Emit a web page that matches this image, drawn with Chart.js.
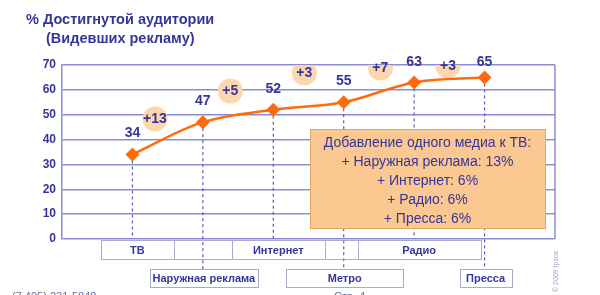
<!DOCTYPE html>
<html>
<head>
<meta charset="utf-8">
<script src="https://cdn.jsdelivr.net/npm/chart.js@4/dist/chart.umd.min.js"></script>
<style>
html,body{margin:0;padding:0;background:#fff;}
#wrap{width:600px;height:295px;position:relative;}
</style>
</head>
<body>
<div id="wrap"><canvas id="reach" width="600" height="295"></canvas></div>
<script>
// media added step by step, cumulative reach %
const media = ['ТВ','Наружная реклама','Интернет','Метро','Радио','Пресса'];
const reach = [34,47,52,55,63,65];
const gains = ['+13','+5','+3','+7','+3'];
const gainX = [1.32,2.39,3.44,4.52,5.48];
const gainY = [48.3,59.5,66.8,68.8,69.6];
const yTicks = [0,10,20,30,40,50,60,70];
const noteLines = ['Добавление одного медиа к ТВ:','+ Наружная реклама: 13%','+ Интернет: 6%','+ Радио: 6%','+ Пресса: 6%'];

const navy = '#35359a';
const gridCol = '#8c8cd2';
const orange = '#ff6a0d';
const boxW = [73,108,93,117,123,52];

const points = reach.map(function(v,i){ return {x:i+1, y:v}; });
const bubbles = gainX.map(function(x,i){ return {x:x, y:gainY[i]}; });

const extras = {
  id:'extras',
  beforeDatasetsDraw(chart){
    const c = chart.ctx, a = chart.chartArea;
    const xs = chart.scales.x, ys = chart.scales.y;
    c.save();
    // right border
    c.strokeStyle = gridCol; c.lineWidth = 1.5;
    c.beginPath(); c.moveTo(a.right, a.top); c.lineTo(a.right, a.bottom); c.stroke();
    // dashed drop lines
    c.setLineDash([3,3]); c.strokeStyle = '#5c5cb8'; c.lineWidth = 1.2;
    reach.forEach(function(v,i){
      const px = xs.getPixelForValue(i+1), py = ys.getPixelForValue(v);
      const end = (i % 2 === 0) ? a.bottom : a.bottom + 30;
      c.beginPath(); c.moveTo(px, py); c.lineTo(px, end); c.stroke();
    });
    c.setLineDash([]);
    // note box
    const bx = a.left + 248, by = a.top + 64, bw = 235, bh = 99;
    c.fillStyle = '#fcc891'; c.strokeStyle = '#e3a468'; c.lineWidth = 1;
    c.fillRect(bx, by, bw, bh); c.strokeRect(bx+0.5, by+0.5, bw, bh);
    c.fillStyle = navy; c.font = '14px "Liberation Sans", Arial, sans-serif';
    c.textAlign = 'center'; c.textBaseline = 'middle';
    noteLines.forEach(function(t,i){ c.fillText(t, bx + bw/2, by + 14 + i*19); });
    c.restore();
  },
  afterDatasetsDraw(chart){
    const c = chart.ctx, a = chart.chartArea;
    const xs = chart.scales.x, ys = chart.scales.y;
    c.save();
    c.textAlign = 'center'; c.textBaseline = 'middle';
    // gain bubble labels
    c.fillStyle = navy; c.font = 'bold 14px "Liberation Sans", Arial, sans-serif';
    gains.forEach(function(g,i){
      c.fillText(g, xs.getPixelForValue(gainX[i]), ys.getPixelForValue(gainY[i]));
    });
    // value labels
    c.font = 'bold 14px "Liberation Sans", Arial, sans-serif';
    reach.forEach(function(v,i){
      const py = Math.max(ys.getPixelForValue(v) - 21, a.top - 3);
      c.fillText(String(v), xs.getPixelForValue(i+1), py);
    });
    // media label boxes
    c.font = 'bold 11px "Liberation Sans", Arial, sans-serif';
    c.lineWidth = 1; c.strokeStyle = '#a9a9d6';
    let prevRight = null;
    media.forEach(function(m,i){
      const cx = xs.getPixelForValue(i+1) + (i % 2 === 0 ? 5 : 1);
      const top = (i % 2 === 0) ? a.bottom + 1 : a.bottom + 30;
      const h = (i % 2 === 0) ? 19 : 18;
      const l = Math.round(cx - boxW[i]/2), w = boxW[i];
      if (i % 2 === 0) {
        if (prevRight !== null) c.strokeRect(prevRight + 0.5, top + 0.5, l - prevRight, h);
        prevRight = l + w;
      }
      c.fillStyle = '#fff'; c.fillRect(l, top, w, h);
      c.strokeRect(l + 0.5, top + 0.5, w, h);
      c.fillStyle = navy; c.fillText(m, cx, top + h/2 + 1);
    });
    // footer bits
    c.fillStyle = '#6a6aa8'; c.font = '11px "Liberation Sans", Arial, sans-serif';
    c.textAlign = 'left'; c.textBaseline = 'top';
    c.fillText('(7 495) 231-5848', 12, 291);
    c.fillText('Стр. 4', 334, 291);
    c.translate(556, 292); c.rotate(-Math.PI/2);
    c.fillStyle = '#9c9cd0'; c.font = '7px "Liberation Sans", Arial, sans-serif';
    c.textBaseline = 'middle';
    c.fillText('© 2009 Ipsos', 0, 0);
    c.restore();
  },
  afterDraw(chart){
    const c = chart.ctx;
    c.save();
    c.fillStyle = navy; c.font = 'bold 14.5px "Liberation Sans", Arial, sans-serif';
    c.textAlign = 'left'; c.textBaseline = 'middle';
    c.fillText('% Достигнутой аудитории', 26, 20);
    c.fillText('(Видевших рекламу)', 46, 39);
    c.restore();
  }
};

new Chart(document.getElementById('reach'), {
  type: 'line',
  data: {
    datasets: [{
      data: points,
      borderColor: orange,
      backgroundColor: orange,
      borderWidth: 2.5,
      tension: 0.35,
      pointStyle: 'rectRot',
      pointRadius: 7,
      pointBorderWidth: 0,
      order: 1
    },{
      type: 'scatter',
      data: bubbles,
      backgroundColor: '#fcd6ac',
      borderWidth: 0,
      pointRadius: 12.5,
      order: 2
    }]
  },
  options: {
    responsive: false,
    animation: false,
    layout: { padding: { left: 0, right: 45, top: 65, bottom: 56 } },
    plugins: { legend: { display: false }, tooltip: { enabled: false } },
    scales: {
      x: { type: 'linear', min: 0, max: 7, display: false },
      y: {
        min: 0, max: 70,
        afterBuildTicks: function(s){ s.ticks = yTicks.map(function(v){ return {value:v}; }); },
        afterFit: function(s){ s.width = 62; },
        ticks: { color: navy, font: { family: '"Liberation Sans", Arial, sans-serif', size: 12, weight: 'bold' }, padding: 6 },
        grid: { color: gridCol, lineWidth: 1.5, drawTicks: false },
        border: { color: gridCol, width: 1.5 }
      }
    }
  },
  plugins: [extras]
});
</script>
</body>
</html>
